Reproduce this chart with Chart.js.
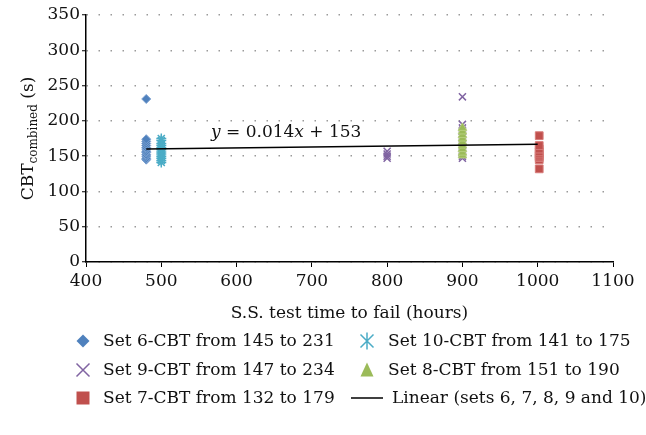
<!DOCTYPE html>
<html>
<head>
<meta charset="utf-8">
<script src="https://cdn.jsdelivr.net/npm/chart.js@4.4.1/dist/chart.umd.min.js"></script>
<style>
  html, body { margin: 0; padding: 0; background: #fff; }
  #wrap { width: 646px; height: 435px; }
</style>
</head>
<body>
<div id="wrap"><canvas id="chart" width="646" height="435"></canvas></div>
<script>
// values
const set6X = 480;
const set6Y = [145, 147, 150, 152, 155, 157, 160, 162, 165, 168, 171, 174, 231];
const set10X = 500;
const set10Y = [141, 144, 147, 150, 153, 156, 159, 162, 165, 168, 172, 175];
const set9X = [800, 800, 800, 800, 900, 900, 900, 900, 900, 900, 900, 900, 900, 900, 900, 900, 900, 900, 900];
const set9Y = [147, 150, 153, 157, 147, 150, 153, 156, 160, 163, 166, 170, 173, 176, 180, 185, 190, 195, 234];
const set8X = 900;
const set8Y = [151, 155, 160, 165, 170, 175, 180, 185, 190];
const set7X = 1002;
const set7Y = [132, 145, 148, 150, 153, 156, 160, 165, 179];
const lineX = [480, 1000];
const lineY = [160, 167];

const xTicks = [400, 500, 600, 700, 800, 900, 1000, 1100];
const yTicks = [0, 50, 100, 150, 200, 250, 300, 350];

const labels = {
    set6: 'Set 6-CBT from 145 to 231',
    set10: 'Set 10-CBT from 141 to 175',
    set9: 'Set 9-CBT from 147 to 234',
    set8: 'Set 8-CBT from 151 to 190',
    set7: 'Set 7-CBT from 132 to 179',
    linear: 'Linear (sets 6, 7, 8, 9 and 10)',
};

const colors = {
    set6: '#4f81bd',
    set10: '#4bacc6',
    set9: '#8064a2',
    set8: '#9bbb59',
    set7: '#c0504d',
};

const FONT = '"DejaVu Serif", serif';

const pts = (xs, ys) => ys.map((y, i) => ({ x: Array.isArray(xs) ? xs[i] : xs, y }));

// shapes for the legend, drawn by hand
function drawMarker(ctx, style, x, y, r, color) {
    ctx.save();
    ctx.fillStyle = color;
    ctx.strokeStyle = color;
    ctx.lineWidth = 1.5;
    ctx.beginPath();
    if (style === 'rectRot') {
        ctx.moveTo(x - r, y); ctx.lineTo(x, y - r); ctx.lineTo(x + r, y); ctx.lineTo(x, y + r);
        ctx.closePath(); ctx.fill();
    } else if (style === 'rect') {
        ctx.rect(x - r, y - r, 2 * r, 2 * r); ctx.fill();
    } else if (style === 'triangle') {
        ctx.moveTo(x, y - r - 1); ctx.lineTo(x + r, y + r); ctx.lineTo(x - r, y + r);
        ctx.closePath(); ctx.fill();
    } else if (style === 'crossRot') {
        ctx.moveTo(x - r, y - r); ctx.lineTo(x + r, y + r);
        ctx.moveTo(x + r, y - r); ctx.lineTo(x - r, y + r); ctx.stroke();
    } else if (style === 'star') {
        ctx.moveTo(x - r, y - r); ctx.lineTo(x + r, y + r);
        ctx.moveTo(x + r, y - r); ctx.lineTo(x - r, y + r);
        ctx.moveTo(x, y - r * 1.3); ctx.lineTo(x, y + r * 1.3); ctx.stroke();
    } else if (style === 'line') {
        ctx.strokeStyle = '#000';
        ctx.moveTo(x - 16, y); ctx.lineTo(x + 16, y); ctx.stroke();
    }
    ctx.restore();
}

const extrasPlugin = {
    id: 'extras',
    afterDraw(chart) {
        const ctx = chart.ctx;
        const area = chart.chartArea;
        ctx.save();
        ctx.fillStyle = '#111';

        // x axis title
        ctx.font = '17px ' + FONT;
        ctx.textAlign = 'center';
        ctx.textBaseline = 'middle';
        ctx.fillText('S.S. test time to fail (hours)', (area.left + area.right) / 2, 314);

        // y axis title with subscript
        ctx.save();
        ctx.translate(27, (area.top + area.bottom) / 2);
        ctx.rotate(-Math.PI / 2);
        ctx.textAlign = 'left';
        ctx.textBaseline = 'alphabetic';
        const big = '17px ' + FONT, small = '12px ' + FONT;
        ctx.font = big; const w1 = ctx.measureText('CBT').width; const w3 = ctx.measureText(' (s)').width;
        ctx.font = small; const w2 = ctx.measureText('combined').width;
        let x0 = -(w1 + w2 + w3) / 2;
        ctx.font = big; ctx.fillText('CBT', x0, 6);
        ctx.font = small; ctx.fillText('combined', x0 + w1, 10);
        ctx.font = big; ctx.fillText(' (s)', x0 + w1 + w2, 6);
        ctx.restore();

        // trend equation
        ctx.textAlign = 'left';
        ctx.textBaseline = 'alphabetic';
        let ex = 211;
        const parts = [['y', true], [' = 0.014', false], ['x', true], [' + 153', false]];
        parts.forEach(([t, it]) => {
            ctx.font = (it ? 'italic ' : '') + '17px ' + FONT;
            ctx.fillText(t, ex, 137);
            ex += ctx.measureText(t).width;
        });

        // legend, two columns
        const rows = [
            [['rectRot', colors.set6, labels.set6, 6.5], ['star', colors.set10, labels.set10, 6.5]],
            [['crossRot', colors.set9, labels.set9, 6.5], ['triangle', colors.set8, labels.set8, 6.5]],
            [['rect', colors.set7, labels.set7, 6.5], ['line', '#000', labels.linear, 0]],
        ];
        const rowY = [341, 370, 398];
        const colMarker = [83, 367];
        const colText = [103, 388];
        ctx.font = '17px ' + FONT;
        ctx.textBaseline = 'middle';
        rows.forEach((row, ri) => {
            row.forEach(([style, color, text, r], ci) => {
                drawMarker(ctx, style, colMarker[ci], rowY[ri], r, color);
                ctx.fillStyle = '#111';
                ctx.fillText(text, colText[ci] + (style === 'line' ? 4 : 0), rowY[ri] + 1);
            });
        });
        ctx.restore();
    },
};

const ctx = document.getElementById('chart').getContext('2d');
new Chart(ctx, {
    type: 'scatter',
    data: {
        datasets: [
            {
                type: 'line',
                label: labels.linear,
                data: pts(lineX, lineY),
                borderColor: '#000',
                borderWidth: 1.5,
                pointRadius: 0,
                order: 0,
            },
            {
                label: labels.set8,
                data: pts(set8X, set8Y),
                pointStyle: 'triangle',
                pointRadius: 5,
                backgroundColor: colors.set8,
                borderColor: '#b5cf7c',
                borderWidth: 1,
                order: 1,
            },
            {
                label: labels.set9,
                data: pts(set9X, set9Y),
                pointStyle: 'crossRot',
                pointRadius: 5,
                borderColor: colors.set9,
                borderWidth: 1.5,
                order: 2,
            },
            {
                label: labels.set10,
                data: pts(set10X, set10Y),
                pointStyle: 'star',
                pointRadius: 5,
                borderColor: colors.set10,
                borderWidth: 1.5,
                order: 3,
            },
            {
                label: labels.set6,
                data: pts(set6X, set6Y),
                pointStyle: 'rectRot',
                pointRadius: 4.5,
                backgroundColor: colors.set6,
                borderColor: '#7a9fd0',
                borderWidth: 1,
                order: 4,
            },
            {
                label: labels.set7,
                data: pts(set7X, set7Y),
                pointStyle: 'rect',
                pointRadius: 5.5,
                backgroundColor: colors.set7,
                borderColor: '#d77c7a',
                borderWidth: 1,
                order: 5,
            },
        ],
    },
    options: {
        responsive: false,
        animation: false,
        layout: { padding: { left: 0, right: 33, top: 15, bottom: 143 } },
        plugins: {
            legend: { display: false },
            tooltip: { enabled: false },
        },
        scales: {
            x: {
                type: 'linear',
                min: xTicks[0],
                max: xTicks[xTicks.length - 1],
                afterBuildTicks: (scale) => { scale.ticks = xTicks.map((v) => ({ value: v })); },
                afterFit: (scale) => { scale.height = 30; },
                grid: { drawOnChartArea: false, drawTicks: true, tickLength: 5, tickColor: '#000', tickWidth: 1 },
                border: { display: true, color: '#000', width: 1.5 },
                ticks: { color: '#111', padding: 4, font: { family: FONT, size: 17 }, maxRotation: 0, callback: (v) => String(v) },
            },
            y: {
                min: yTicks[0],
                max: yTicks[yTicks.length - 1],
                afterBuildTicks: (scale) => { scale.ticks = yTicks.map((v) => ({ value: v })); },
                afterFit: (scale) => { scale.width = 86; },
                grid: { color: '#9a9a9a', lineWidth: 1.5, tickLength: 4, tickColor: '#000', tickWidth: 1, tickBorderDash: [] },
                border: { display: true, color: '#000', width: 1.5, dash: [1.5, 10.5] },
                ticks: { color: '#111', padding: 2, font: { family: FONT, size: 17 }, callback: (v) => String(v) },
            },
        },
    },
    plugins: [extrasPlugin],
});
</script>
</body>
</html>
